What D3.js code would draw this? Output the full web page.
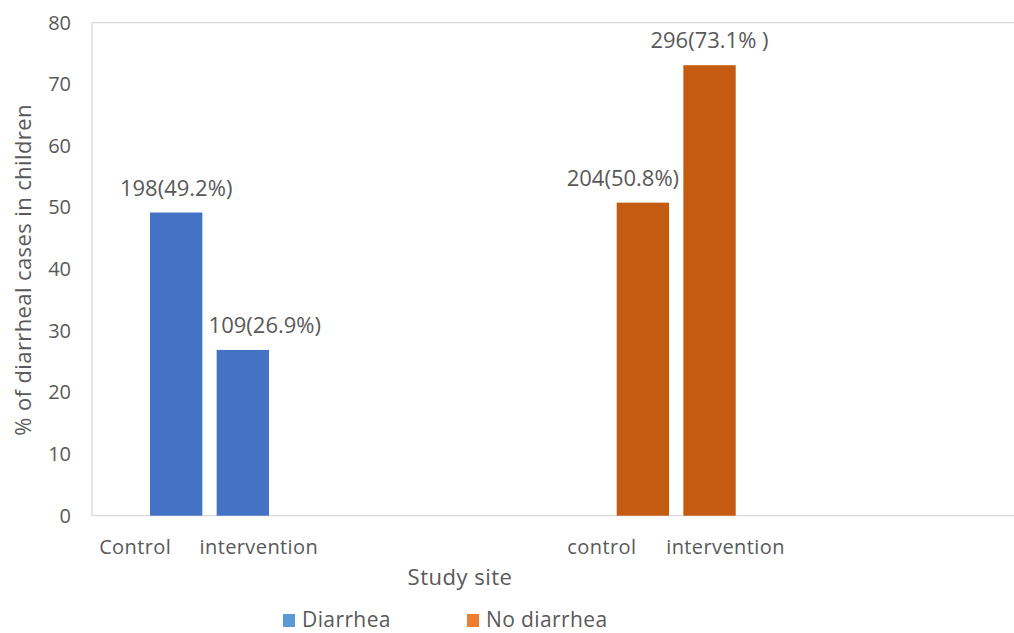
<!DOCTYPE html>
<html>
<head>
<meta charset="utf-8">
<script src="https://cdn.jsdelivr.net/npm/d3@7"></script>
<style>
  html, body { margin: 0; padding: 0; background: #fff; }
  svg { display: block; }
  text { font-family: "Open Sans", sans-serif; fill: #595959; }
</style>
</head>
<body>
<svg id="chart" width="1014" height="633"></svg>
<script>
// Outcome groups (legend series) and study sites within each group
const outcomes = ["Diarrhea", "No diarrhea"];
const sites = ["control", "intervention"];
const siteLabels = [["Control", "intervention"], ["control", "intervention"]];

// Percent of children per outcome / site, with counts for the labels
const diarrheaPct = [49.2, 26.9];
const noDiarrheaPct = [50.8, 73.1];
const diarrheaN = [198, 109];
const noDiarrheaN = [204, 296];
const valueLabels = [["198(49.2%)", "109(26.9%)"], ["204(50.8%)", "296(73.1% )"]];

const yTicks = [0, 10, 20, 30, 40, 50, 60, 70, 80];

const barColors = ["#4472C4", "#C55A11"];
const legendColors = ["#5B9BD5", "#ED7D31"];

const svg = d3.select("#chart");
const W = 1014;
const plot = { left: 92, top: 22.7, bottom: 515.7 };

const y = d3.scaleLinear().domain([0, 80]).range([plot.bottom, plot.top]);

// one wide band per outcome, two narrow site bars inside each band
const xGroup = d3.scaleBand().domain(outcomes).range([plot.left, plot.left + 933.4]);
const xSite = d3.scaleBand().domain(sites).range([58, 177]).paddingInner(0.2145);

const rows = outcomes.map((o, gi) => ({
  outcome: o,
  values: gi === 0 ? diarrheaPct : noDiarrheaPct,
  counts: gi === 0 ? diarrheaN : noDiarrheaN
}));

// plot frame
const frame = svg.append("g").attr("stroke", "#d9d9d9").attr("stroke-width", 1.3);
frame.append("line").attr("x1", plot.left).attr("x2", W).attr("y1", plot.top).attr("y2", plot.top);
frame.append("line").attr("x1", plot.left).attr("x2", plot.left).attr("y1", plot.top).attr("y2", plot.bottom);
frame.append("line").attr("x1", plot.left).attr("x2", W).attr("y1", plot.bottom).attr("y2", plot.bottom);

// y axis labels
const yAxis = svg.append("g")
  .attr("transform", `translate(${plot.left},0)`)
  .call(d3.axisLeft(y).tickValues(yTicks).tickSize(0).tickPadding(21));
yAxis.select(".domain").remove();
yAxis.selectAll("text")
  .attr("font-size", 20)
  .attr("fill", "#595959")
  .style("font-family", "'Open Sans', sans-serif");

// bars
const groups = svg.selectAll("g.grp").data(rows).join("g")
  .attr("class", "grp")
  .attr("transform", d => `translate(${xGroup(d.outcome)},0)`);

groups.each(function (d, gi) {
  const g = d3.select(this);
  g.selectAll("rect").data(sites).join("rect")
    .attr("x", s => xSite(s))
    .attr("width", xSite.bandwidth())
    .attr("y", (s, i) => y(d.values[i]))
    .attr("height", (s, i) => y(0) - y(d.values[i]))
    .attr("fill", barColors[gi]);
});

// value labels above the bars (horizontal nudges keep neighbours apart)
const labelShift = [[0, 22], [-20, 0]];
groups.each(function (d, gi) {
  const g = d3.select(this);
  g.selectAll("text.val").data(sites).join("text")
    .attr("class", "val")
    .attr("x", (s, i) => xSite(s) + xSite.bandwidth() / 2 + labelShift[gi][i])
    .attr("y", (s, i) => y(d.values[i]) - 17)
    .attr("text-anchor", "middle")
    .attr("font-size", 22)
    .text((s, i) => valueLabels[gi][i]);
});

// site labels under the axis
const siteShift = [-41, 16];
groups.each(function (d, gi) {
  const g = d3.select(this);
  g.selectAll("text.site").data(sites).join("text")
    .attr("class", "site")
    .attr("x", (s, i) => xSite(s) + xSite.bandwidth() / 2 + siteShift[i])
    .attr("y", 554)
    .attr("text-anchor", "middle")
    .attr("font-size", 20)
    .attr("letter-spacing", 0.4)
    .text((s, i) => siteLabels[gi][i]);
});

// axis titles
svg.append("text")
  .attr("x", 460).attr("y", 585)
  .attr("text-anchor", "middle")
  .attr("font-size", 22)
  .attr("letter-spacing", 0.5)
  .text("Study site");

svg.append("text")
  .attr("transform", "translate(31,270) rotate(-90)")
  .attr("text-anchor", "middle")
  .attr("font-size", 22)
  .attr("letter-spacing", 0.4)
  .text("% of diarrheal cases in children");

// legend
const legendX = [283, 467];
const legend = svg.selectAll("g.leg").data(outcomes).join("g")
  .attr("class", "leg")
  .attr("transform", (d, i) => `translate(${legendX[i]},614)`);
legend.append("rect").attr("width", 12).attr("height", 13)
  .attr("fill", (d, i) => legendColors[i]);
legend.append("text").attr("x", 19).attr("y", 13)
  .attr("font-size", 21)
  .attr("letter-spacing", 0.4)
  .text(d => d);
</script>
</body>
</html>
